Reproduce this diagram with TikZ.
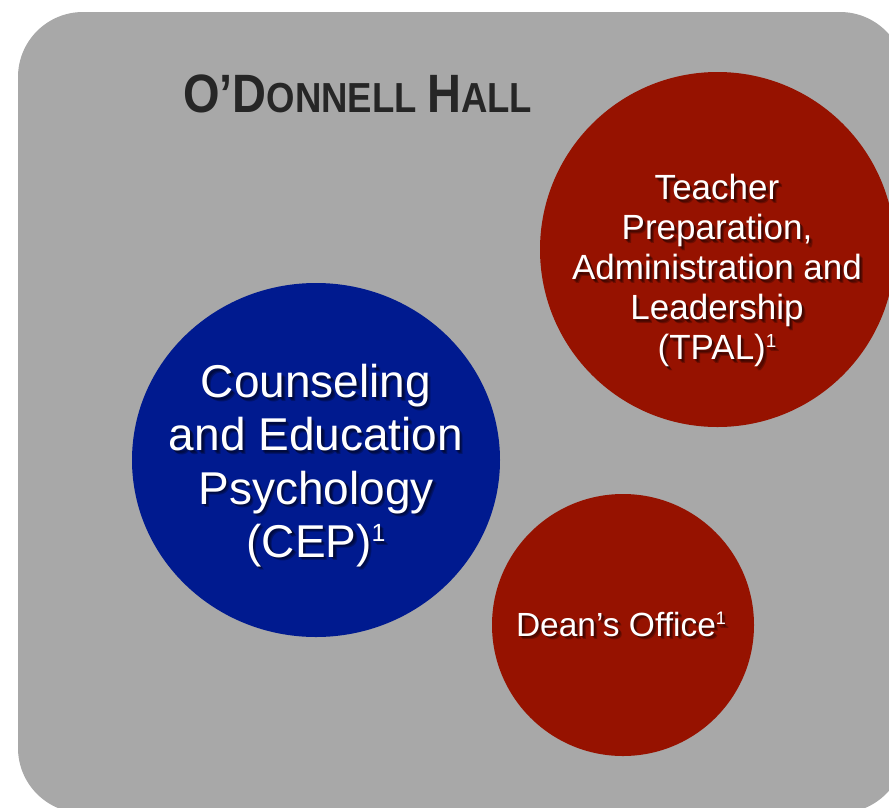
\documentclass[tikz,border=0pt]{standalone}
\usepackage{fontspec}
\setmainfont{Liberation Sans}
\usepackage{xcolor}
\usepackage{tikz}
\usetikzlibrary{shapes.geometric}
\definecolor{hallgray}{HTML}{A8A8A8}
\definecolor{deptred}{HTML}{961200}
\definecolor{deptblue}{HTML}{001A8F}
\definecolor{titlegray}{HTML}{262626}
\tikzset{
  dept/.style={ellipse, inner sep=0pt},
  deptlabel/.style={text=white, align=center, inner sep=0pt},
  deptshadow/.style={text=black, align=center, inner sep=0pt, opacity=0.25}
}
\newcommand{\fnone}{\raisebox{0.34em}{\scalebox{0.54}{1}}}
\newcommand{\ceptext}{Counseling\\and Education\\Psychology\\(CEP)\fnone}
\newcommand{\tpaltext}{Teacher\\Preparation,\\Administration and\\Leadership\\(TPAL)\fnone}
\newcommand{\deantext}{Dean’s Office\fnone}

\begin{document}
\begin{tikzpicture}[x=1pt,y=-1pt]

\useasboundingbox (0,0) rectangle (889,807);
\clip (0,0) rectangle (889,807);

% the hall
\fill[hallgray, rounded corners=65pt] (18,12) rectangle (905,813);
\node[anchor=base west, inner sep=0pt, text=titlegray, font=\bfseries] (hall) at (183,112)
  {\scalebox{0.87}[1]{\fontsize{54}{54}\selectfont O’D\fontsize{42}{42}\selectfont ONNELL
   \fontsize{54}{54}\selectfont H\fontsize{42}{42}\selectfont ALL}};

% departments
\begin{scope}[every node/.style={dept}]
    \node[fill=deptred, minimum width=355pt, minimum height=355pt] (tpal) at (717.5,249.5) {};
    \node[fill=deptblue, minimum width=368pt, minimum height=354pt] (cep) at (316,460) {};
    \node[fill=deptred, minimum width=262pt, minimum height=262pt] (dean) at (623,625) {};
\end{scope}

% soft text shadows
\foreach \s in {1.5,2.5,3.5} {
    \node[deptshadow, anchor=north, font=\fontsize{46}{53.3}\selectfont] at (316+\s,364+\s) {\ceptext};
    \node[deptshadow, anchor=north, font=\fontsize{35}{40}\selectfont] at (717+\s,174+\s) {\tpaltext};
    \node[deptshadow, anchor=base, font=\fontsize{33.5}{40}\selectfont] at (621+\s,636+\s) {\deantext};
}

\node[deptlabel, anchor=north, font=\fontsize{46}{53.3}\selectfont] (ceplabel) at (316,364) {\ceptext};
\node[deptlabel, anchor=north, font=\fontsize{35}{40}\selectfont] (tpallabel) at (717,174) {\tpaltext};
\node[deptlabel, anchor=base, font=\fontsize{33.5}{40}\selectfont] (deanlabel) at (621,636) {\deantext};

\end{tikzpicture}
\end{document}
